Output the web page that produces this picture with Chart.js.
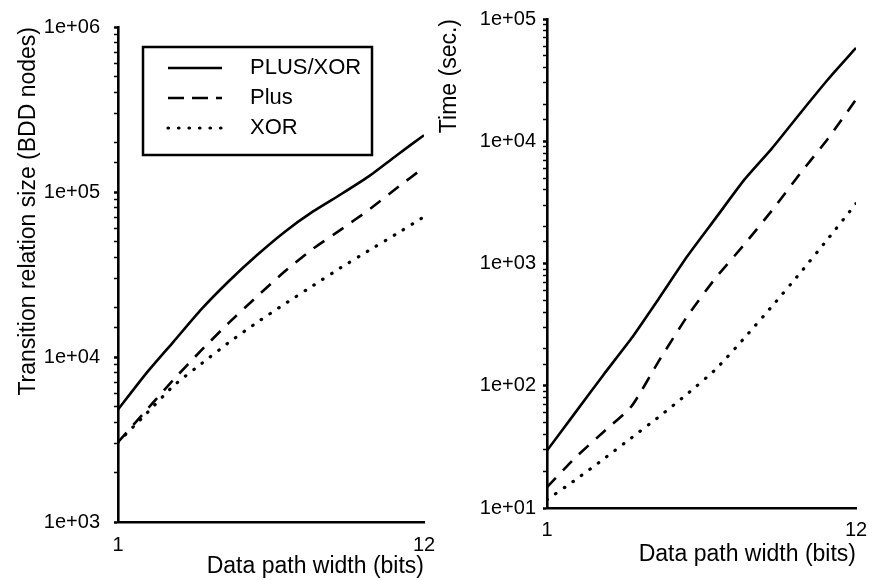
<!DOCTYPE html>
<html>
<head>
<meta charset="utf-8">
<script src="https://cdn.jsdelivr.net/npm/chart.js@4"></script>
<style>
  body { margin: 0; background: #fff; }
  .panel { position: absolute; top: 0; height: 580px; }
  #left { left: 0; width: 440px; }
  #right { left: 436px; width: 440px; }
</style>
</head>
<body>
<div id="left" class="panel"><canvas id="sizeChart"></canvas></div>
<div id="right" class="panel"><canvas id="timeChart"></canvas></div>
<script>
const widths = [1, 2, 3, 4, 5, 6, 7, 8, 9, 10, 11, 12];
const seriesNames = ['PLUS/XOR', 'Plus', 'XOR'];

// transition relation size (BDD nodes)
const sizePlusXor = [4800, 7900, 12400, 19500, 29000, 41500, 57500, 76000, 96600, 124000, 166000, 221000];
const sizePlus = [3050, 4720, 7300, 11000, 16200, 23300, 33100, 45200, 59000, 77600, 105000, 141000];
const sizeXor = [3050, 4500, 6700, 9100, 12300, 16200, 21000, 27000, 34700, 44000, 55600, 70800];

// time (sec.)
const timePlusXor = [29.5, 60, 122, 243, 525, 1150, 2340, 4760, 8700, 16800, 32000, 58000];
const timePlus = [14.8, 25.7, 41.7, 67.6, 162, 372, 760, 1410, 2700, 5400, 10500, 21900];
const timeXor = [11.7, 16.9, 25, 37.4, 56, 86, 136, 242, 444, 830, 1590, 3090];

const xTicks = [1, 12];
const FONT = "'Liberation Sans', Arial, sans-serif";

const styles = [
  { borderDash: [], borderWidth: 2.6, borderCapStyle: 'butt' },
  { borderDash: [13, 10], borderWidth: 2.6, borderCapStyle: 'butt' },
  { borderDash: [0.5, 10], borderWidth: 3.2, borderCapStyle: 'round' }
];

function isPow10(v) {
  const e = Math.log10(v);
  return Math.abs(e - Math.round(e)) < 1e-9;
}

function makeDatasets(lists) {
  return lists.map((vals, i) => ({
    label: seriesNames[i],
    data: widths.map((w, j) => ({ x: w, y: vals[j] })),
    borderColor: '#000',
    pointRadius: 0,
    tension: 0.2,
    fill: false,
    ...styles[i]
  }));
}

const boxLegend = {
  id: 'boxLegend',
  afterDraw(chart) {
    const ctx = chart.ctx;
    ctx.save();
    ctx.strokeStyle = '#000';
    ctx.lineWidth = 2.5;
    ctx.strokeRect(143, 47, 229, 108);
    ctx.font = '22px ' + FONT;
    ctx.fillStyle = '#000';
    ctx.textBaseline = 'middle';
    chart.data.datasets.forEach((ds, i) => {
      const y = 68 + i * 30;
      ctx.beginPath();
      ctx.lineWidth = ds.borderWidth;
      ctx.lineCap = ds.borderCapStyle;
      ctx.setLineDash(ds.borderDash.length ? (i === 1 ? [16, 8] : ds.borderDash) : []);
      ctx.moveTo(168, y);
      ctx.lineTo(222, y);
      ctx.stroke();
      ctx.fillText(ds.label, 250, y);
    });
    ctx.restore();
  }
};

function makeChart(id, lists, opts) {
  return new Chart(document.getElementById(id), {
    type: 'line',
    data: { datasets: makeDatasets(lists) },
    plugins: opts.plugins || [],
    options: {
      responsive: true,
      maintainAspectRatio: false,
      animation: false,
      layout: { padding: { top: opts.top, right: opts.right, bottom: 0, left: 0 } },
      plugins: { legend: { display: false }, tooltip: { enabled: false } },
      scales: {
        x: {
          type: 'linear',
          min: 1,
          max: 12,
          afterBuildTicks: s => { s.ticks = xTicks.map(v => ({ value: v })); },
          afterFit: s => { s.height = opts.xHeight; },
          grid: { display: false },
          border: { display: true, color: '#000', width: 2.6 },
          ticks: { color: '#000', font: { family: FONT, size: 20 }, padding: opts.xPad, maxRotation: 0 },
          title: {
            display: true, text: 'Data path width (bits)', align: 'end', color: '#000',
            font: { family: FONT, size: 23 }, padding: { top: 0, bottom: opts.xTitleBottom }
          }
        },
        y: {
          type: 'logarithmic',
          min: opts.yMin,
          max: opts.yMax,
          afterFit: s => { s.width = opts.yWidth; },
          grid: {
            display: true, drawOnChartArea: false, drawTicks: true, tickLength: 4,
            color: '#000', tickColor: '#000',
            tickWidth: c => (c.tick && isPow10(c.tick.value) ? 2.5 : 1.5)
          },
          border: { display: true, color: '#000', width: 2.6 },
          ticks: {
            autoSkip: false,
            color: '#000',
            font: { family: FONT, size: 20 },
            padding: opts.yPad,
            callback: v => isPow10(v) ? '1e+' + String(Math.round(Math.log10(v))).padStart(2, '0') : ''
          },
          title: {
            display: true, text: opts.yTitle, align: 'end', color: '#000',
            font: { family: FONT, size: 23 }, padding: { top: opts.yTitleTop, bottom: 0 }
          }
        }
      }
    }
  });
}

makeChart('sizeChart', [sizePlusXor, sizePlus, sizeXor], {
  top: 27, right: 16, xHeight: 58, xPad: 3, xTitleBottom: 0,
  yMin: 1e3, yMax: 1e6, yWidth: 118, yPad: 14, yTitleTop: 15,
  yTitle: 'Transition relation size (BDD nodes)',
  plugins: [boxLegend]
});

makeChart('timeChart', [timePlusXor, timePlus, timeXor], {
  top: 14, right: 20, xHeight: 72, xPad: 2, xTitleBottom: 12,
  yMin: 1e1, yMax: 1e5, yWidth: 111, yPad: 7, yTitleTop: 0,
  yTitle: 'Time (sec.)'
});
</script>
</body>
</html>
